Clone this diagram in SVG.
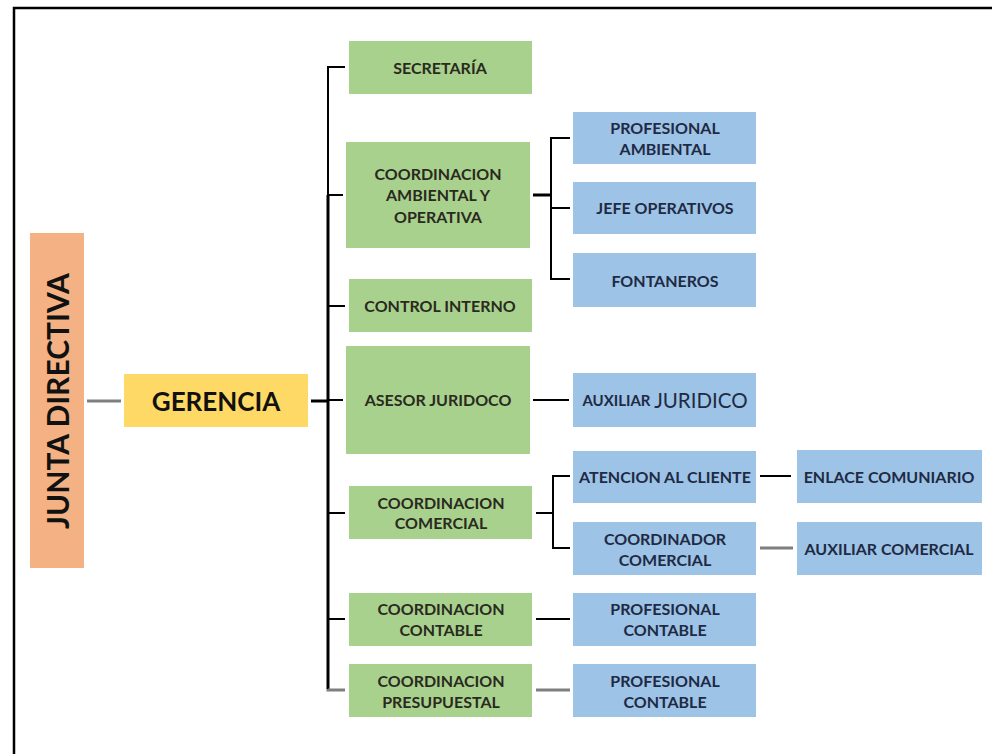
<svg xmlns="http://www.w3.org/2000/svg" width="992" height="754" viewBox="0 0 992 754">
<style>
.g{fill:#A9D18E}
.b{fill:#9DC3E6}
.t{font-family:Lato,"Open Sans","Liberation Sans",sans-serif;font-weight:bold;font-size:16px;text-anchor:middle;dominant-baseline:central}
.tg{fill:#2a2a1e}
.tb{fill:#1f2a44}
.k{stroke:#000;stroke-width:2;fill:none}
.k3{stroke:#000;stroke-width:3;fill:none}
.gr{stroke:#7f7f7f;stroke-width:3;fill:none}
</style>
<rect width="992" height="754" fill="#fff"/>
<path d="M14 754 V8 H992" stroke="#000" stroke-width="2.5" fill="none"/>
<g id="connectors">
<line class="gr" x1="87" y1="401" x2="121" y2="401"/>
<line class="k3" x1="311" y1="401" x2="329" y2="401"/>
<path class="k" d="M345 67 H328 V195"/>
<path class="k3" d="M328 195 V689"/>
<line class="k" x1="328" y1="195" x2="343" y2="195"/>
<line class="k" x1="328" y1="306" x2="345" y2="306"/>
<line class="k" x1="328" y1="400" x2="343" y2="400"/>
<line class="k" x1="328" y1="513" x2="345" y2="513"/>
<line class="k" x1="328" y1="619" x2="345" y2="619"/>
<path class="gr" d="M328 689 V690 H345"/>
<line class="k3" x1="533" y1="195" x2="551" y2="195"/>
<path class="k" d="M570 138 H551 V279 H570"/>
<line class="k" x1="551" y1="208" x2="570" y2="208"/>
<line class="k" x1="533" y1="400" x2="569" y2="400"/>
<line class="k" x1="536" y1="513" x2="553" y2="513"/>
<path class="k" d="M570 476 H553 V548 H570"/>
<line class="k" x1="760" y1="476" x2="791" y2="476"/>
<line class="gr" x1="760" y1="548" x2="793" y2="548"/>
<line class="k" x1="536" y1="619" x2="570" y2="619"/>
<line class="gr" x1="536" y1="690" x2="570" y2="690"/>
</g>
<g id="junta">
<rect x="30" y="233" width="54" height="335" fill="#F4B183"/>
<text class="t" x="57" y="401" fill="#111" transform="rotate(-90 57 401)" style="font-size:30px">JUNTA DIRECTIVA</text>
</g>
<g id="gerencia">
<rect x="124" y="374" width="184" height="53" fill="#FFD966"/>
<text class="t" x="216" y="401" fill="#111" style="font-size:26px">GERENCIA</text>
</g>
<g id="secretaria">
<rect class="g" x="349" y="41" width="183" height="53"/>
<text class="t tg" x="440" y="67">SECRETARÍA</text>
</g>
<g id="coord-ambiental">
<rect class="g" x="346" y="142" width="184" height="106"/>
<text class="t tg" x="438" y="173">COORDINACION</text>
<text class="t tg" x="438" y="194.5">AMBIENTAL Y</text>
<text class="t tg" x="438" y="216">OPERATIVA</text>
</g>
<g id="control-interno">
<rect class="g" x="349" y="279" width="183" height="53"/>
<text class="t tg" x="440" y="305">CONTROL INTERNO</text>
</g>
<g id="asesor-juridoco">
<rect class="g" x="346" y="346" width="184" height="108"/>
<text class="t tg" x="438" y="399">ASESOR JURIDOCO</text>
</g>
<g id="coord-comercial">
<rect class="g" x="349" y="486" width="183" height="53"/>
<text class="t tg" x="441" y="502">COORDINACION</text>
<text class="t tg" x="441" y="522">COMERCIAL</text>
</g>
<g id="coord-contable">
<rect class="g" x="349" y="593" width="183" height="53"/>
<text class="t tg" x="441" y="608">COORDINACION</text>
<text class="t tg" x="441" y="629">CONTABLE</text>
</g>
<g id="coord-presupuestal">
<rect class="g" x="349" y="664" width="183" height="53"/>
<text class="t tg" x="441" y="680">COORDINACION</text>
<text class="t tg" x="441" y="701">PRESUPUESTAL</text>
</g>
<g id="profesional-ambiental">
<rect class="b" x="573" y="112" width="183" height="52"/>
<text class="t tb" x="665" y="127">PROFESIONAL</text>
<text class="t tb" x="665" y="148">AMBIENTAL</text>
</g>
<g id="jefe-operativos">
<rect class="b" x="573" y="182" width="183" height="52"/>
<text class="t tb" x="665" y="207">JEFE OPERATIVOS</text>
</g>
<g id="fontaneros">
<rect class="b" x="573" y="253" width="183" height="54"/>
<text class="t tb" x="665" y="280">FONTANEROS</text>
</g>
<g id="auxiliar-juridico">
<rect class="b" x="573" y="373" width="183" height="54"/>
<text class="t tb" x="665" y="400"><tspan style="font-size:15px">AUXILIAR </tspan><tspan style="font-size:20.5px;font-weight:normal">JURIDICO</tspan></text>
</g>
<g id="atencion-cliente">
<rect class="b" x="573" y="451" width="183" height="52"/>
<text class="t tb" x="665" y="476">ATENCION AL CLIENTE</text>
</g>
<g id="coordinador-comercial">
<rect class="b" x="573" y="522" width="183" height="53"/>
<text class="t tb" x="665" y="538">COORDINADOR</text>
<text class="t tb" x="665" y="559">COMERCIAL</text>
</g>
<g id="profesional-contable-1">
<rect class="b" x="573" y="593" width="183" height="53"/>
<text class="t tb" x="665" y="608">PROFESIONAL</text>
<text class="t tb" x="665" y="629">CONTABLE</text>
</g>
<g id="profesional-contable-2">
<rect class="b" x="573" y="664" width="183" height="53"/>
<text class="t tb" x="665" y="680">PROFESIONAL</text>
<text class="t tb" x="665" y="701">CONTABLE</text>
</g>
<g id="enlace-comuniario">
<rect class="b" x="797" y="450" width="185" height="53"/>
<text class="t tb" x="889" y="476">ENLACE COMUNIARIO</text>
</g>
<g id="auxiliar-comercial">
<rect class="b" x="797" y="522" width="185" height="53"/>
<text class="t tb" x="889" y="548">AUXILIAR COMERCIAL</text>
</g>
</svg>
